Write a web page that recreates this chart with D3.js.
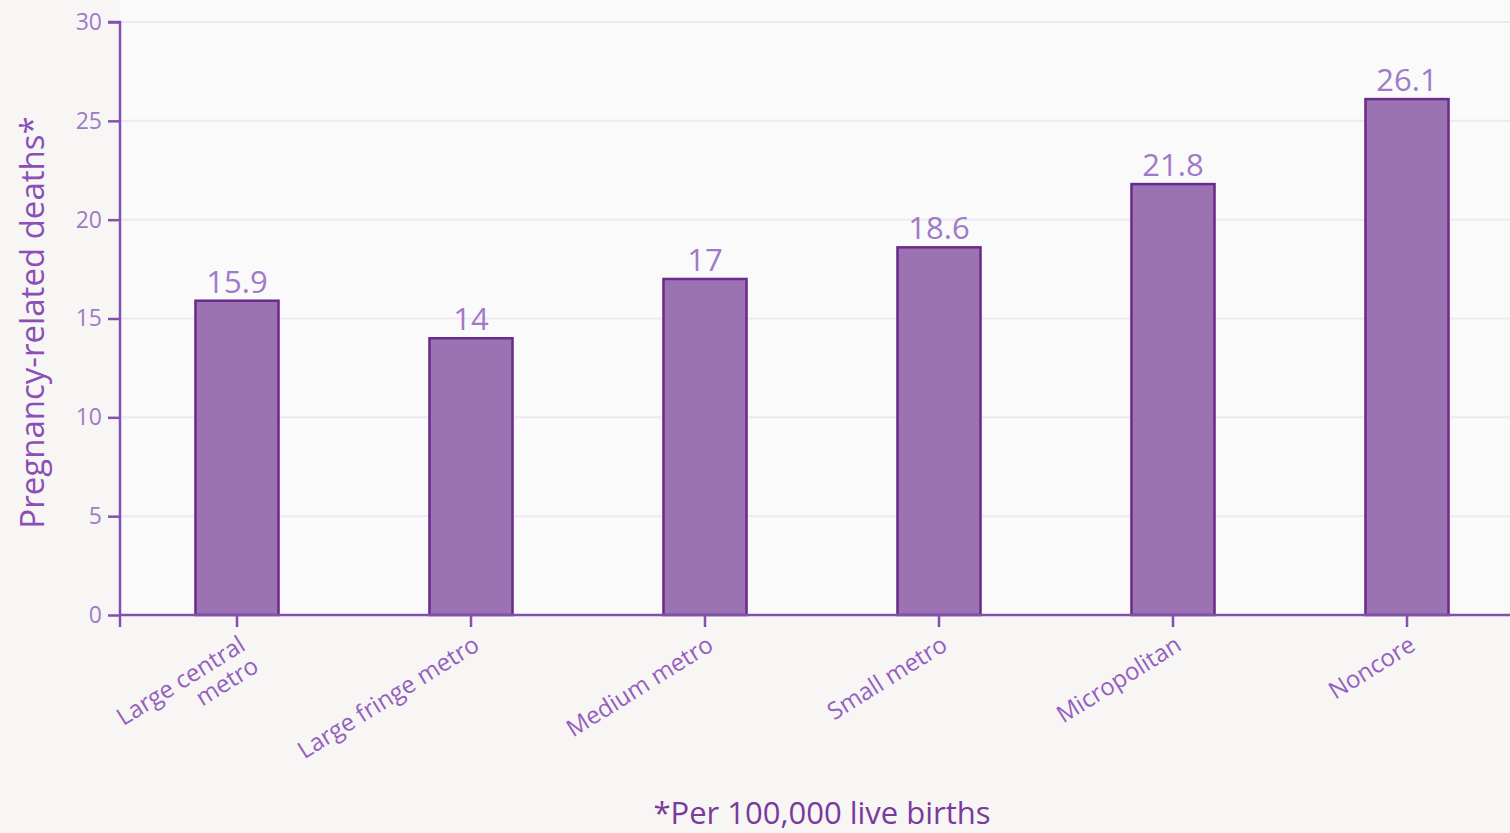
<!DOCTYPE html>
<html>
<head>
<meta charset="utf-8">
<script src="https://cdn.jsdelivr.net/npm/d3@7"></script>
<style>
  body { margin: 0; background: #f8f6f4; }
  svg { display: block; font-family: "Open Sans", sans-serif; }
</style>
</head>
<body>
<div id="chart"></div>
<script>
// chart data
var categories = ["Large central\nmetro", "Large fringe metro", "Medium metro", "Small metro", "Micropolitan", "Noncore"]
var deaths = [15.9, 14, 17, 18.6, 21.8, 26.1]
var yTicks = [0, 5, 10, 15, 20, 25, 30]

var width = 1510
var height = 833
var margin = { top: 22, right: 0, bottom: 218, left: 120 }

var svg = d3.select("#chart")
    .append("svg")
    .attr("width", width)
    .attr("height", height)

// plot background
svg.append("rect")
    .attr("x", margin.left)
    .attr("y", 0)
    .attr("width", width - margin.left)
    .attr("height", height - margin.bottom)
    .attr("fill", "#fbfafa")

// step of 234px per category, bars ~83px wide
var x = d3.scaleBand()
    .domain(categories)
    .range([margin.left, margin.left + 6 * 234])
    .paddingInner(0.645)
    .paddingOuter(0.3225)

var y = d3.scaleLinear()
    .domain([0, 30])
    .range([height - margin.bottom, margin.top])

// gridlines
svg.append("g")
    .selectAll("line")
    .data(yTicks.slice(1))
    .enter()
    .append("line")
    .attr("x1", margin.left)
    .attr("x2", width)
    .attr("y1", function (d) { return y(d) })
    .attr("y2", function (d) { return y(d) })
    .attr("stroke", "#eee8f4")
    .attr("stroke-width", 2)

// bars
svg.append("g")
    .selectAll("rect")
    .data(deaths)
    .enter()
    .append("rect")
    .attr("x", function (d, i) { return x(categories[i]) })
    .attr("y", function (d) { return y(d) })
    .attr("width", x.bandwidth())
    .attr("height", function (d) { return y(0) - y(d) })
    .attr("fill", "#9b72b2")
    .attr("stroke", "#6b2b8c")
    .attr("stroke-width", 2.5)

// value labels
svg.append("g")
    .selectAll("text")
    .data(deaths)
    .enter()
    .append("text")
    .attr("x", function (d, i) { return x(categories[i]) + x.bandwidth() / 2 })
    .attr("y", function (d) { return y(d) - 8 })
    .attr("text-anchor", "middle")
    .attr("fill", "#a07ac8")
    .style("font-size", "31px")
    .text(function (d) { return d })

// y axis
var yAxis = svg.append("g")
    .attr("transform", "translate(" + margin.left + ",0)")
    .call(d3.axisLeft(y).tickValues(yTicks).tickSize(12).tickPadding(6))
yAxis.select(".domain").attr("stroke", "#8450ae").attr("stroke-width", 2.5)
    .attr("d", "M-12," + y(30) + "H0V" + (y(0) + 12))
yAxis.selectAll(".tick line").attr("stroke", "#8450ae").attr("stroke-width", 2.5)
yAxis.selectAll(".tick text").attr("fill", "#a07ac8").style("font-size", "23px")
    .style("font-family", "Open Sans")

// x axis
var xAxis = svg.append("g")
    .attr("transform", "translate(0," + y(0) + ")")
    .call(d3.axisBottom(x).tickSize(12).tickFormat(""))
xAxis.select(".domain").attr("stroke", "#8450ae").attr("stroke-width", 2.5)
    .attr("d", "M" + margin.left + ",0H" + width)
xAxis.selectAll(".tick line").attr("stroke", "#8450ae").attr("stroke-width", 2.5)

// rotated x labels
xAxis.selectAll(".tick")
    .append("text")
    .attr("fill", "#9460c0")
    .attr("text-anchor", "end")
    .style("font-size", "24px")
    .style("font-family", "Open Sans")
    .attr("transform", "translate(10,34) rotate(-32)")
    .each(function (d) {
        var lines = d.split("\n")
        var t = d3.select(this)
        lines.forEach(function (line, i) {
            t.append("tspan")
                .attr("x", 0)
                .attr("dy", i === 0 ? 0 : "1.05em")
                .text(line)
        })
    })

// y title
svg.append("text")
    .attr("transform", "translate(44," + ((y(0) + y(30)) / 2 + 4) + ") rotate(-90)")
    .attr("text-anchor", "middle")
    .attr("fill", "#8a4fb8")
    .style("font-size", "33px")
    .text("Pregnancy-related deaths*")

// footnote
svg.append("text")
    .attr("x", 822)
    .attr("y", 824)
    .attr("text-anchor", "middle")
    .attr("fill", "#7a3a9c")
    .style("font-size", "31px")
    .text("*Per 100,000 live births")
</script>
</body>
</html>
